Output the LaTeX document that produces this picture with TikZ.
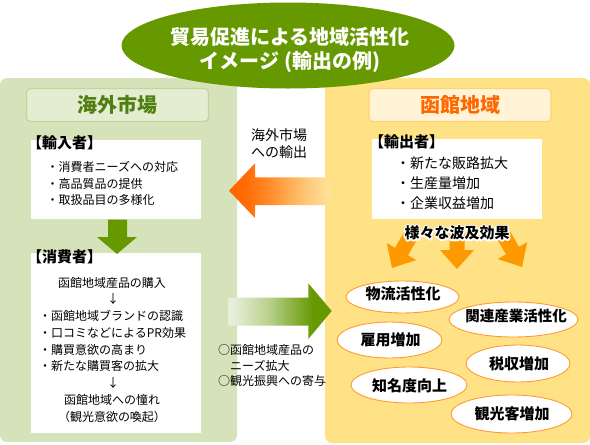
\documentclass[tikz,border=0pt]{standalone}
\usepackage{fontspec}
\setmainfont{Noto Sans CJK JP}
\usetikzlibrary{shapes.geometric}
\definecolor{gpanel}{HTML}{D6E3BA}
\definecolor{ypanel}{HTML}{FFE285}
\definecolor{tgreen}{HTML}{669900}
\definecolor{glabF}{HTML}{E4EDD2}
\definecolor{glabB}{HTML}{C2D69B}
\definecolor{gtext}{HTML}{4F7F10}
\definecolor{ylabF}{HTML}{FFF5D6}
\definecolor{ylabB}{HTML}{FFD176}
\definecolor{otext}{HTML}{FF6600}
\definecolor{orA}{HTML}{FF9900}
\definecolor{ellB}{HTML}{FF9933}
\definecolor{oa1}{HTML}{FF6600}
\definecolor{oa2}{HTML}{FF6A05}
\definecolor{oa3}{HTML}{FF8C2A}
\definecolor{oa4}{HTML}{FFAE55}
\definecolor{oa5}{HTML}{FFCB80}
\definecolor{oa6}{HTML}{FFE39A}
\definecolor{ga1}{HTML}{E8F0DC}
\definecolor{ga2}{HTML}{E3ECD3}
\definecolor{ga3}{HTML}{B8D08A}
\definecolor{ga4}{HTML}{90B448}
\definecolor{ga5}{HTML}{74A41C}
\definecolor{ga6}{HTML}{669900}
\pgfdeclarehorizontalshading{orshade}{100bp}{color(0bp)=(oa1); color(25bp)=(oa1); color(33bp)=(oa2); color(45bp)=(oa3); color(55bp)=(oa4); color(65bp)=(oa5); color(75bp)=(oa6); color(100bp)=(oa6)}
\pgfdeclarehorizontalshading{grshade}{100bp}{color(0bp)=(ga1); color(25bp)=(ga1); color(29bp)=(ga2); color(45bp)=(ga3); color(55bp)=(ga4); color(62bp)=(ga5); color(66bp)=(ga6); color(100bp)=(ga6)}
\newcommand{\strokeon}{\special{pdf:literal direct 1 Tr 3 w 1 j}}
\newcommand{\strokeoff}{\special{pdf:literal direct 0 Tr}}
\tikzset{
  orarrow/.pic={\fill[orA] (0,0) -- (-19,17) -- (-19,7.5) -- (-36,7.5) -- (-36,-7.5) -- (-19,-7.5) -- (-19,-17) -- cycle;},
  body/.style={inner sep=0pt, font=\fontsize{12}{16.7}\selectfont},
  lbl/.style={inner sep=0pt, font=\fontsize{15}{17}\bfseries\selectfont},
  wbox/.style={fill=white, inner sep=0pt, minimum width=170pt},
  headbox/.style={rounded corners=4pt, line width=1.2pt, minimum width=182pt, minimum height=33pt, inner sep=0pt, font=\fontsize{20}{22}\bfseries\selectfont},
  effE/.style={ellipse, draw=ellB, fill=white, line width=0.9pt, inner sep=0pt},
  effT/.style={inner sep=0pt, font=\fontsize{15}{17}\bfseries\selectfont},
}
\begin{document}
\begin{tikzpicture}[x=1pt,y=1pt]
\useasboundingbox (0,0) rectangle (590,-445);
\fill[white] (0,0) rectangle (590,-445);
% panels
\fill[gpanel, rounded corners=7pt] (0,-78) rectangle (237,-442);
\fill[ypanel, rounded corners=7pt] (325,-78) rectangle (590,-443);
% title
\node[ellipse, fill=tgreen, minimum width=333pt, minimum height=86pt, inner sep=0pt] (title) at (288,-45.5) {};
\node[text=white, inner sep=0pt, align=center, font=\fontsize{20}{24}\bfseries\selectfont] (titletext) at (290,-50) {貿易促進による地域活性化\\イメージ (輸出の例)};
% headers
\node[headbox, draw=glabB, fill=glabF, text=gtext] (kaigai) at (117.5,-105) {海外市場};
\node[headbox, draw=ylabB, fill=ylabF, text=otext] (hakodate) at (460,-105) {函館地域};
% white boxes
\node[wbox, minimum height=79pt] (impbox) at (116,-179.5) {};
\node[wbox, minimum height=180pt] (conbox) at (116,-343) {};
\node[wbox, minimum height=80pt] (expbox) at (457,-179) {};
% labels
\node[lbl, anchor=west] (implbl) at (27,-143) {【輸入者】};
\node[lbl, anchor=west] (conlbl) at (27,-257) {【消費者】};
\node[lbl, anchor=west] (explbl) at (369,-142) {【輸出者】};
% importer -> consumer arrow
\fill[tgreen] (108,-219.5) -- (127,-219.5) -- (127,-237) -- (137,-237) -- (117,-254) -- (97,-237) -- (108,-237) -- cycle;
% importer list
\node[body, anchor=west, align=left] (implist) at (46.5,-183.5) {・消費者ニーズへの対応\\・高品質品の提供\\・取扱品目の多様化};
% consumer list
\node[body] (c1) at (112,-282.7) {函館地域産品の購入};
\node[body] (c2) at (113,-299.4) {↓};
\node[body, anchor=west] (c3) at (39,-316.2) {・函館地域ブランドの認識};
\node[body, anchor=west] (c4) at (39,-332.9) {・口コミなどによるPR効果};
\node[body, anchor=west] (c5) at (39,-349.7) {・購買意欲の高まり};
\node[body, anchor=west] (c6) at (39,-366.4) {・新たな購買客の拡大};
\node[body] (c7) at (113,-383.2) {↓};
\node[body] (c8) at (112,-399.9) {函館地域への憧れ};
\node[body] (c9) at (112,-416.7) {（観光意欲の喚起）};
% exporter list
\node[inner sep=0pt, anchor=west, align=left, font=\fontsize{14}{20}\selectfont] (explist) at (396,-183.3) {・新たな販路拡大\\・生産量増加\\・企業収益増加};
% export arrow
\shade[shading=orshade] (229,-190.7) -- (255,-163.3) -- (255,-177.3) -- (330,-177.3) -- (330,-205) -- (255,-205) -- (255,-218) -- cycle;
\node[inner sep=0pt, anchor=west, align=left, font=\fontsize{14}{17}\selectfont] (exptxt) at (251,-143.6) {海外市場\\への輸出};
% green arrow
\shade[shading=grshade] (228,-297.7) -- (308.3,-297.7) -- (308.3,-283.3) -- (331.7,-311) -- (308.3,-339) -- (308.3,-325.7) -- (228,-325.7) -- cycle;
\node[body, anchor=west, align=left, font=\fontsize{12}{15.5}\selectfont] (needs) at (218,-365.5) {○函館地域産品の\\\hspace*{1em}ニーズ拡大\\○観光振興への寄与};
% orange small arrows
\pic[rotate=240] (arL) at (392,-268) {orarrow};
\pic[rotate=270] (arM) at (457,-269) {orarrow};
\pic[rotate=300] (arR) at (522,-267) {orarrow};
\node[effT, text=white] (hakyuhalo) at (457,-233) {\strokeon 様々な波及効果\strokeoff};
\node[effT] (hakyu) at (457,-233) {様々な波及効果};
% effect ellipses
\node[effE, minimum width=113pt, minimum height=32pt] (e1) at (402.5,-297) {};
\node[effE, minimum width=129pt, minimum height=35pt] (e2) at (513.5,-319.5) {};
\node[effE, minimum width=105pt, minimum height=36pt] (e3) at (389.5,-340) {};
\node[effE, minimum width=104pt, minimum height=37pt] (e4) at (518,-363.5) {};
\node[effE, minimum width=116pt, minimum height=36pt] (e5) at (409,-385) {};
\node[effE, minimum width=121pt, minimum height=38pt] (e6) at (511.5,-414) {};
\node[effT] (e1t) at (403,-293.5) {物流活性化};
\node[effT, font=\fontsize{14.5}{17}\bfseries\selectfont] (e2t) at (516,-315.5) {関連産業活性化};
\node[effT] (e3t) at (390.5,-340) {雇用増加};
\node[effT] (e4t) at (519,-364) {税収増加};
\node[effT] (e5t) at (409.5,-386) {知名度向上};
\node[effT] (e6t) at (512,-414) {観光客増加};
\end{tikzpicture}
\end{document}
